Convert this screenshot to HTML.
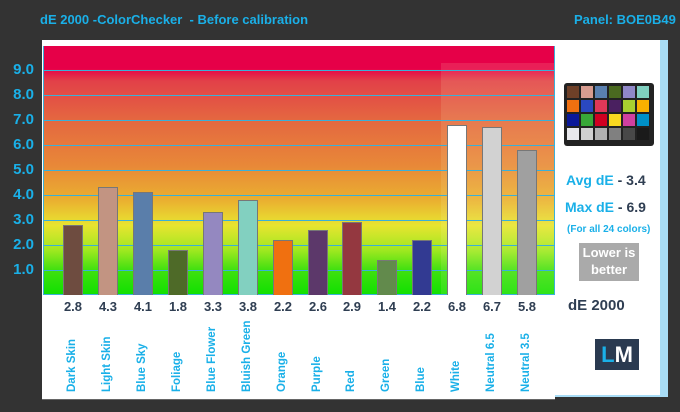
<!DOCTYPE html><html><head><style>
body{margin:0;width:680px;height:412px;background:#333;position:relative;overflow:hidden;font-family:"Liberation Sans",sans-serif}
.a{position:absolute;white-space:nowrap}
.t{color:#1ab0e8;font-weight:bold}
.yl{position:absolute;left:0;width:34px;text-align:right;color:#1ab0e8;font-weight:bold;font-size:15px}
.v{position:absolute;width:30px;text-align:center;color:#2f3e52;font-weight:bold;font-size:13px;top:299px}
.n{position:absolute;top:392px;transform-origin:0 0;transform:rotate(-90deg);color:#1ab0e8;font-size:11.5px;font-weight:bold;white-space:nowrap}
.b{position:absolute;width:20px;box-sizing:border-box;border:1px solid #777;border-bottom:none}
</style></head><body>
<div class="a t" style="left:40px;top:12px;font-size:13px">dE 2000 -ColorChecker &nbsp;- Before calibration</div>
<div class="a t" style="left:574px;top:12px;font-size:13px">Panel: BOE0B49</div>
<div class="a" style="left:42px;top:40px;width:626px;height:357px;background:#a8dcf5"></div>
<div class="a" style="left:42px;top:40px;width:618px;height:355px;background:#fff"></div>
<div class="a" style="left:42px;top:295px;width:513px;height:104px;background:#fff;border-bottom:1px solid #666"></div>
<div class="a" style="left:43px;top:40px;width:512px;height:6px;background:#fff;border-bottom:1px solid #d0ecf8"></div>
<div class="a" style="left:43px;top:46px;width:512px;height:249px;background:linear-gradient(#e60048 0%,#e60048 9%,#e24048 14%,#e46840 30%,#e88838 48%,#eab030 62%,#e8e430 72%,#a0e820 82%,#40e010 90%,#10e000 100%)"></div>
<div class="a" style="left:441px;top:63px;width:114px;height:232px;background:rgba(255,255,200,0.12)"></div>
<svg class="a" style="left:43px;top:46px" width="512" height="249">
<g stroke="#3ab0d8" stroke-width="1">
<line x1="0" x2="512" y1="24.5" y2="24.5"/><line x1="0" x2="512" y1="49.5" y2="49.5"/><line x1="0" x2="512" y1="74.5" y2="74.5"/><line x1="0" x2="512" y1="99.5" y2="99.5"/><line x1="0" x2="512" y1="124.5" y2="124.5"/><line x1="0" x2="512" y1="149.5" y2="149.5"/><line x1="0" x2="512" y1="174.5" y2="174.5"/><line x1="0" x2="512" y1="199.5" y2="199.5"/><line x1="0" x2="512" y1="224.5" y2="224.5"/><line x1="0" x2="512" y1="248.5" y2="248.5"/>
<line x1="0.5" x2="0.5" y1="0" y2="249"/><line x1="511.5" x2="511.5" y1="0" y2="249"/></g></svg>
<div class="yl" style="top:61px">9.0</div><div class="yl" style="top:86px">8.0</div><div class="yl" style="top:111px">7.0</div><div class="yl" style="top:136px">6.0</div><div class="yl" style="top:161px">5.0</div><div class="yl" style="top:186px">4.0</div><div class="yl" style="top:211px">3.0</div><div class="yl" style="top:236px">2.0</div><div class="yl" style="top:261px">1.0</div>
<div class="b" style="left:63px;top:225px;height:70px;background:#6e4c40"></div>
<div class="b" style="left:98px;top:187px;height:108px;background:#c29482"></div>
<div class="b" style="left:133px;top:192px;height:103px;background:#5a7eaa"></div>
<div class="b" style="left:168px;top:250px;height:45px;background:#4e6a28"></div>
<div class="b" style="left:203px;top:212px;height:83px;background:#9488c0"></div>
<div class="b" style="left:238px;top:200px;height:95px;background:#82d0c0"></div>
<div class="b" style="left:273px;top:240px;height:55px;background:#f07010"></div>
<div class="b" style="left:308px;top:230px;height:65px;background:#5c386a"></div>
<div class="b" style="left:342px;top:222px;height:73px;background:#943840"></div>
<div class="b" style="left:377px;top:260px;height:35px;background:#628a4c"></div>
<div class="b" style="left:412px;top:240px;height:55px;background:#323a92"></div>
<div class="b" style="left:447px;top:125px;height:170px;background:#fff"></div>
<div class="b" style="left:482px;top:127px;height:168px;background:#d2d2d2"></div>
<div class="b" style="left:517px;top:150px;height:145px;background:#a0a0a0"></div>
<div class="v" style="left:58px">2.8</div><div class="v" style="left:93px">4.3</div><div class="v" style="left:128px">4.1</div><div class="v" style="left:163px">1.8</div><div class="v" style="left:198px">3.3</div><div class="v" style="left:233px">3.8</div><div class="v" style="left:268px">2.2</div><div class="v" style="left:303px">2.6</div><div class="v" style="left:337px">2.9</div><div class="v" style="left:372px">1.4</div><div class="v" style="left:407px">2.2</div><div class="v" style="left:442px">6.8</div><div class="v" style="left:477px">6.7</div><div class="v" style="left:512px">5.8</div>
<div class="n" style="left:66px">Dark Skin</div><div class="n" style="left:101px">Light Skin</div><div class="n" style="left:136px">Blue Sky</div><div class="n" style="left:171px">Foliage</div><div class="n" style="left:206px">Blue Flower</div><div class="n" style="left:241px">Bluish Green</div><div class="n" style="left:276px">Orange</div><div class="n" style="left:311px">Purple</div><div class="n" style="left:345px">Red</div><div class="n" style="left:380px">Green</div><div class="n" style="left:415px">Blue</div><div class="n" style="left:450px">White</div><div class="n" style="left:485px">Neutral 6.5</div><div class="n" style="left:520px">Neutral 3.5</div>
<div class="a" style="left:564px;top:83px;width:90px;height:63px;background:#222;border-radius:3px"></div>
<svg class="a" style="left:566px;top:86px" width="86" height="58">
<g>
<rect x="1" y="0" width="12" height="12" fill="#6e4028"/><rect x="15" y="0" width="12" height="12" fill="#d89c90"/><rect x="29" y="0" width="12" height="12" fill="#5a80b0"/><rect x="43" y="0" width="12" height="12" fill="#4a6a20"/><rect x="57" y="0" width="12" height="12" fill="#9088c8"/><rect x="71" y="0" width="12" height="12" fill="#80d0c0"/>
<rect x="1" y="14" width="12" height="12" fill="#f07010"/><rect x="15" y="14" width="12" height="12" fill="#2a48c0"/><rect x="29" y="14" width="12" height="12" fill="#e03858"/><rect x="43" y="14" width="12" height="12" fill="#4a2060"/><rect x="57" y="14" width="12" height="12" fill="#a8d030"/><rect x="71" y="14" width="12" height="12" fill="#f8b000"/>
<rect x="1" y="28" width="12" height="12" fill="#0a1898"/><rect x="15" y="28" width="12" height="12" fill="#38a838"/><rect x="29" y="28" width="12" height="12" fill="#d00020"/><rect x="43" y="28" width="12" height="12" fill="#f8d820"/><rect x="57" y="28" width="12" height="12" fill="#d040a0"/><rect x="71" y="28" width="12" height="12" fill="#0090c8"/>
<rect x="1" y="42" width="12" height="12" fill="#e8e8ec"/><rect x="15" y="42" width="12" height="12" fill="#d0d0d0"/><rect x="29" y="42" width="12" height="12" fill="#b0b0b0"/><rect x="43" y="42" width="12" height="12" fill="#808080"/><rect x="57" y="42" width="12" height="12" fill="#484848"/><rect x="71" y="42" width="12" height="12" fill="#1a1a1a"/></g></svg>
<div class="a t" style="left:566px;top:172px;font-size:14px">Avg dE <span style="color:#2f3e52">- 3.4</span></div>
<div class="a t" style="left:565px;top:199px;font-size:14px">Max dE <span style="color:#2f3e52">- 6.9</span></div>
<div class="a t" style="left:567px;top:224px;font-size:10px">(For all 24 colors)</div>
<div class="a" style="left:579px;top:243px;width:60px;height:37px;background:#aaa;color:#fff;font-weight:bold;font-size:13px;text-align:center;line-height:17px;padding-top:1px">Lower is<br>better</div>
<div class="a" style="left:568px;top:297px;color:#2f3e52;font-weight:bold;font-size:15px">dE 2000</div>
<div class="a" style="left:595px;top:339px;width:44px;height:31px;background:#2a3a50;font-weight:bold;font-size:22px;line-height:31px;text-align:center"><span style="color:#1ab0e8">L</span><span style="color:#fff">M</span></div>
</body></html>
